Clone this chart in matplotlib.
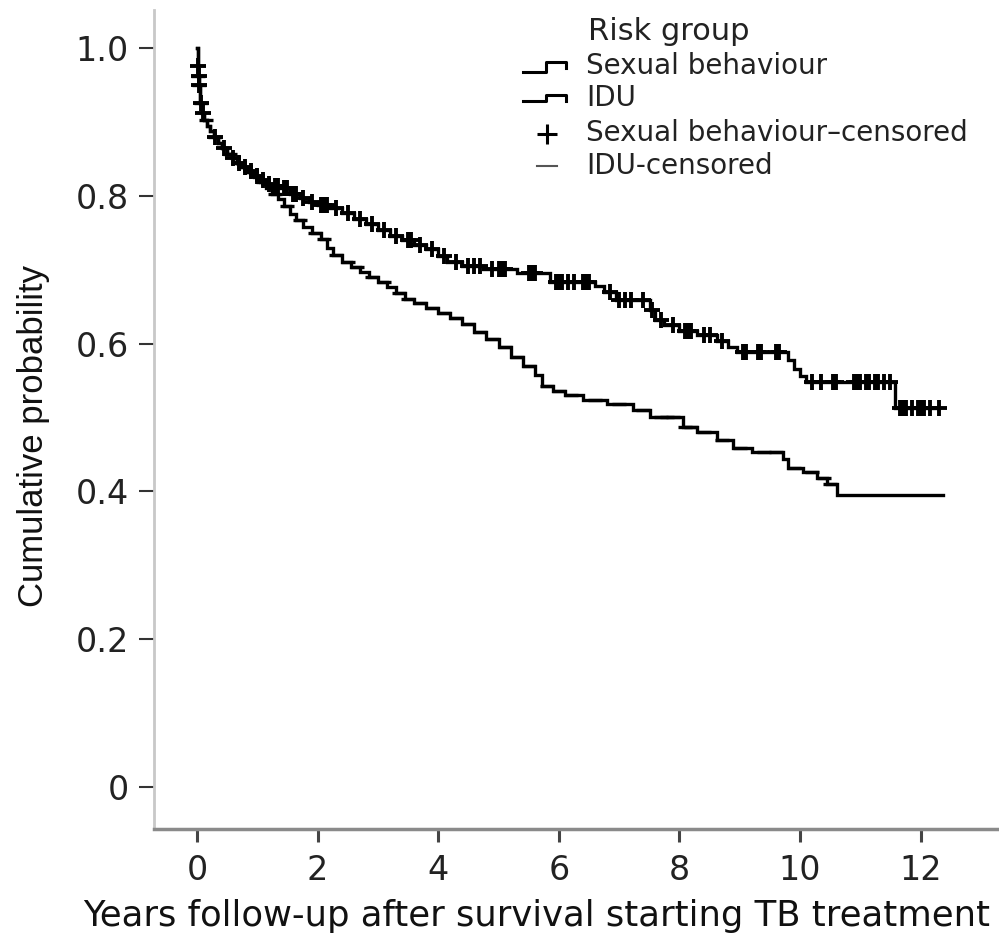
import numpy as np
import matplotlib
matplotlib.use("Agg")
import matplotlib.pyplot as plt
from matplotlib.lines import Line2D

plt.rcParams['font.family'] = ['DejaVu Sans']

# Kaplan-Meier step points: time of each drop and survival level after it
sb_times = [0.00, 0.01, 0.02, 0.03, 0.05, 0.08, 0.12, 0.17, 0.22, 0.28, 0.35, 0.42,
            0.50, 0.58, 0.66, 0.75, 0.85, 0.95, 1.05, 1.15, 1.28, 1.40, 1.55, 1.70,
            1.85, 2.00, 2.20, 2.40, 2.60, 2.80, 3.00, 3.20, 3.40, 3.60, 3.80, 4.00,
            4.15, 4.40, 4.75, 5.30, 5.85, 6.60, 6.75, 6.95, 7.51, 7.60, 7.75, 8.00,
            8.30, 8.62, 8.80, 8.95, 9.80, 9.90, 10.00, 10.10, 11.58]
sb_surv = [1.000, 0.975, 0.962, 0.950, 0.925, 0.912, 0.903, 0.895, 0.887, 0.880, 0.872, 0.864,
           0.857, 0.851, 0.845, 0.839, 0.833, 0.827, 0.821, 0.816, 0.813, 0.810, 0.803, 0.797,
           0.791, 0.787, 0.783, 0.777, 0.769, 0.762, 0.754, 0.746, 0.740, 0.734, 0.728, 0.719,
           0.710, 0.705, 0.701, 0.696, 0.684, 0.678, 0.670, 0.659, 0.645, 0.632, 0.625, 0.617,
           0.611, 0.603, 0.595, 0.588, 0.578, 0.566, 0.556, 0.548, 0.513]
sb_end = 12.30

idu_times = [0.00, 0.01, 0.02, 0.03, 0.05, 0.08, 0.12, 0.17, 0.22, 0.28, 0.35, 0.42,
             0.50, 0.58, 0.66, 0.75, 0.85, 0.95, 1.05, 1.15, 1.25, 1.35, 1.45, 1.55,
             1.65, 1.76, 1.90, 2.05, 2.15, 2.25, 2.40, 2.55, 2.70, 2.85, 3.00, 3.15,
             3.30, 3.45, 3.60, 3.80, 4.00, 4.20, 4.40, 4.60, 4.80, 5.00, 5.20, 5.40,
             5.60, 5.72, 5.90, 6.10, 6.40, 6.80, 7.23, 7.51, 8.06, 8.30, 8.62, 8.89,
             9.20, 9.72, 9.80, 10.05, 10.28, 10.45, 10.61]
idu_surv = [1.000, 0.975, 0.962, 0.950, 0.925, 0.912, 0.903, 0.895, 0.887, 0.880, 0.872, 0.864,
            0.857, 0.851, 0.845, 0.839, 0.832, 0.826, 0.819, 0.811, 0.803, 0.796, 0.786, 0.776,
            0.767, 0.758, 0.750, 0.741, 0.730, 0.720, 0.711, 0.703, 0.697, 0.690, 0.684, 0.676,
            0.668, 0.661, 0.655, 0.648, 0.642, 0.634, 0.626, 0.616, 0.606, 0.595, 0.582, 0.570,
            0.557, 0.543, 0.536, 0.530, 0.524, 0.518, 0.510, 0.501, 0.487, 0.480, 0.470, 0.459,
            0.453, 0.444, 0.432, 0.426, 0.418, 0.410, 0.395]
idu_end = 12.37

# censoring times
sb_censor = [0.015, 0.025, 0.04, 0.06, 0.10, 0.30, 0.45, 0.60, 0.70, 0.80, 0.90, 1.00,
             1.10, 1.20, 1.30, 1.35, 1.45, 1.50, 1.60, 1.65, 1.75, 1.90, 2.05, 2.10,
             2.15, 2.30, 2.50, 2.70, 2.90, 3.10, 3.30, 3.50, 3.55, 3.70, 3.90, 4.10,
             4.30, 4.50, 4.60, 4.70, 4.90, 5.00, 5.05, 5.10, 5.50, 5.55, 5.60, 5.95,
             6.00, 6.05, 6.15, 6.25, 6.40, 6.45, 6.50, 6.85, 7.00, 7.10, 7.20, 7.40,
             7.55, 7.70, 7.90, 8.10, 8.15, 8.20, 8.40, 8.50, 8.70, 9.05, 9.10, 9.30,
             9.35, 9.60, 9.65, 10.20, 10.35, 10.55, 10.60, 10.90, 10.95, 11.00, 11.10,
             11.15, 11.25, 11.30, 11.40, 11.50, 11.65, 11.70, 11.75, 11.85, 11.95,
             12.00, 12.05, 12.15, 12.30]
idu_censor = [0.02, 0.04, 0.07, 0.15, 0.30, 0.55, 0.70, 0.90, 1.10, 1.30, 1.50, 1.70,
              1.95, 2.10, 2.30, 2.50, 2.65, 2.90, 3.10, 3.35, 3.50, 3.70, 3.90, 4.10,
              4.30, 4.50, 4.70, 4.90, 5.10, 5.30, 5.50, 5.80, 6.00, 6.20, 6.60, 7.00,
              7.40, 7.70, 7.80, 7.90, 8.10, 8.20, 8.40, 8.70, 9.00, 9.40, 9.60, 9.90,
              10.20, 10.40, 10.50]

x_ticks = [0, 2, 4, 6, 8, 10, 12]
y_ticks = [0, 0.2, 0.4, 0.6, 0.8, 1.0]
y_tick_labels = ['0', '0.2', '0.4', '0.6', '0.8', '1.0']

W, H = 999, 939
fig = plt.figure(figsize=(W / 100, H / 100), dpi=100)
ax = fig.add_axes([154 / W, 1 - 829 / H, (W - 154) / W, (829 - 10) / H])


def step_level(times, surv, t):
    idx = np.searchsorted(times, t, side='right') - 1
    return np.asarray(surv)[idx]


for times, surv, end, cens, mk, ms, mew in [
        (sb_times, sb_surv, sb_end, sb_censor, '+', 12, 2.8),
        (idu_times, idu_surv, idu_end, idu_censor, '_', 10, 2.4)]:
    tx = np.array(times + [end])
    sy = np.array(surv + [surv[-1]])
    ax.step(tx, sy, where='post', color='black', lw=2.4, solid_joinstyle='miter')
    cy = step_level(np.array(times), surv, np.array(cens))
    ax.plot(cens, cy, linestyle='none', marker=mk, color='black',
            markersize=ms, markeredgewidth=mew)

ax.set_xlim(-0.713, 13.3)
ax.set_ylim(-0.0568, 1.0514)
ax.set_xticks(x_ticks)
ax.set_xticklabels([str(v) for v in x_ticks])
ax.set_yticks(y_ticks)
ax.set_yticklabels(y_tick_labels)

for s in ['top', 'right']:
    ax.spines[s].set_visible(False)
ax.spines['left'].set_color('#c8c8c8')
ax.spines['left'].set_linewidth(2.0)
ax.spines['bottom'].set_color('#8a8a8a')
ax.spines['bottom'].set_linewidth(2.5)

ax.tick_params(axis='y', direction='out', length=11, width=1.5, color='#333333',
               pad=7, labelsize=24, labelcolor='#222222')
ax.tick_params(axis='x', direction='out', length=9, width=2.2, color='#444444',
               pad=9, labelsize=24, labelcolor='#222222')

ax.set_xlabel('Years follow-up after survival starting TB treatment', fontsize=25.5,
              color='#111111')
ax.xaxis.set_label_coords((537 - 154) / (W - 154), (829 - 916) / 819)
ax.xaxis.label.set_va('center')
ax.set_ylabel('Cumulative probability', fontsize=25, color='#111111',
              family=['Liberation Sans', 'DejaVu Sans'])
ax.yaxis.set_label_coords((34 - 154) / (W - 154), (829 - 436) / 819)
ax.yaxis.label.set_va('center')

# legend drawn in figure pixel space
def fx(px):
    return px / W


def fy(py):
    return 1 - py / H


leg_color = '#222222'
fig.text(fx(588), fy(32), 'Risk group', fontsize=22, color=leg_color, va='center', ha='left')
entries = [('Sexual behaviour', 66), ('IDU', 98),
           ('Sexual behaviour\u2013censored', 133), ('IDU-censored', 166)]
for label, yc in entries:
    fig.text(fx(586), fy(yc), label, fontsize=20, color=leg_color, va='center', ha='left')

# step-shaped handles for the two curves
for (lo, hi) in [(72, 62), (101, 95)]:
    xs = [523, 546, 546, 566, 566]
    ys = [lo, lo, hi, hi, hi + 6]
    fig.add_artist(Line2D([fx(v) for v in xs], [fy(v) for v in ys], color='black',
                          lw=2.2, transform=fig.transFigure))
fig.add_artist(Line2D([fx(547)], [fy(134)], marker='+', color='black', markersize=14,
                      markeredgewidth=2.2, transform=fig.transFigure))
fig.add_artist(Line2D([fx(537), fx(557)], [fy(166), fy(166)], color='#555555', lw=1.5,
                      transform=fig.transFigure))

fig.savefig('out.png', dpi=100)
